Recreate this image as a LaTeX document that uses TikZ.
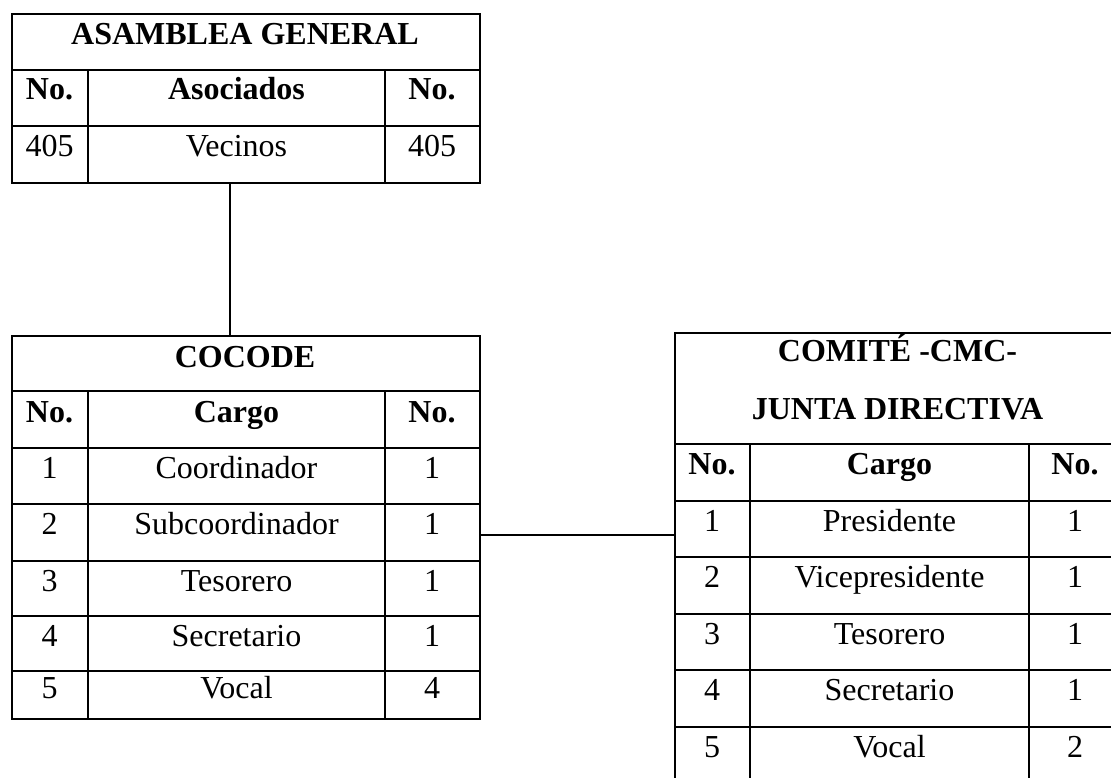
\documentclass[tikz,border=0pt]{standalone}
\usepackage{fontspec}
\setmainfont{Liberation Serif}

\tikzset{
  frame/.style={draw, line width=2pt, rectangle, inner sep=0pt, anchor=north west},
  rule/.style={line width=2pt},
  cell/.style={anchor=base, inner sep=0pt, font=\fontsize{32}{38}\selectfont},
  head/.style={anchor=base, inner sep=0pt, font=\fontsize{32}{38}\selectfont\bfseries}
}

\begin{document}
\begin{tikzpicture}[x=1pt, y=-1pt]
    \useasboundingbox (0,0) rectangle (1111,778);
    \clip (0,0) rectangle (1111,778);

    % asamblea general
    \node[frame, minimum width=468pt, minimum height=169pt] (asamblea) at (11,13) {};
    \draw[rule] (11,70) -- (479,70);
    \draw[rule] (11,126) -- (479,126);
    \draw[rule] (88,70) -- (88,182);
    \draw[rule] (385,70) -- (385,182);
    \node[head] (asamblea-title) at (245,45) {ASAMBLEA GENERAL};
    \node[head] (asamblea-no1) at (49.5,100) {No.};
    \node[head] (asamblea-asoc) at (236.5,100) {Asociados};
    \node[head] (asamblea-no2) at (432,100) {No.};
    \node[cell] (asamblea-n1) at (49.5,157) {405};
    \node[cell] (asamblea-vec) at (236.5,157) {Vecinos};
    \node[cell] (asamblea-n2) at (432,157) {405};

    % cocode
    \node[frame, minimum width=468pt, minimum height=383pt] (cocode) at (11,335) {};
    \draw[rule] (11,391) -- (479,391);
    \draw[rule] (11,448) -- (479,448);
    \draw[rule] (11,504) -- (479,504);
    \draw[rule] (11,561) -- (479,561);
    \draw[rule] (11,616) -- (479,616);
    \draw[rule] (11,671) -- (479,671);
    \draw[rule] (88,391) -- (88,718);
    \draw[rule] (385,391) -- (385,718);
    \node[head] (cocode-title) at (245,367) {COCODE};
    \node[head] (cocode-no1) at (49.5,422) {No.};
    \node[head] (cocode-cargo) at (236.5,422) {Cargo};
    \node[head] (cocode-no2) at (432,422) {No.};
    \node[cell] (cocode-a1) at (49.5,478) {1};
    \node[cell] (cocode-b1) at (236.5,478) {Coordinador};
    \node[cell] (cocode-c1) at (432,478) {1};
    \node[cell] (cocode-a2) at (49.5,534) {2};
    \node[cell] (cocode-b2) at (236.5,534) {Subcoordinador};
    \node[cell] (cocode-c2) at (432,534) {1};
    \node[cell] (cocode-a3) at (49.5,591) {3};
    \node[cell] (cocode-b3) at (236.5,591) {Tesorero};
    \node[cell] (cocode-c3) at (432,591) {1};
    \node[cell] (cocode-a4) at (49.5,646) {4};
    \node[cell] (cocode-b4) at (236.5,646) {Secretario};
    \node[cell] (cocode-c4) at (432,646) {1};
    \node[cell] (cocode-a5) at (49.5,698) {5};
    \node[cell] (cocode-b5) at (236.5,698) {Vocal};
    \node[cell] (cocode-c5) at (432,698) {4};

    % comite cmc
    \node[frame, minimum width=447pt, minimum height=452pt] (comite) at (674,332) {};
    \draw[rule] (674,444) -- (1121,444);
    \draw[rule] (674,501) -- (1121,501);
    \draw[rule] (674,557) -- (1121,557);
    \draw[rule] (674,614) -- (1121,614);
    \draw[rule] (674,670) -- (1121,670);
    \draw[rule] (674,727) -- (1121,727);
    \draw[rule] (750,444) -- (750,784);
    \draw[rule] (1029,444) -- (1029,784);
    \node[head] (comite-title1) at (897.5,361) {COMITÉ -CMC-};
    \node[head] (comite-title2) at (897.5,419) {JUNTA DIRECTIVA};
    \node[head] (comite-no1) at (712,474) {No.};
    \node[head] (comite-cargo) at (889.5,474) {Cargo};
    \node[head] (comite-no2) at (1075,474) {No.};
    \node[cell] (comite-a1) at (712,531) {1};
    \node[cell] (comite-b1) at (889.5,531) {Presidente};
    \node[cell] (comite-c1) at (1075,531) {1};
    \node[cell] (comite-a2) at (712,587) {2};
    \node[cell] (comite-b2) at (889.5,587) {Vicepresidente};
    \node[cell] (comite-c2) at (1075,587) {1};
    \node[cell] (comite-a3) at (712,644) {3};
    \node[cell] (comite-b3) at (889.5,644) {Tesorero};
    \node[cell] (comite-c3) at (1075,644) {1};
    \node[cell] (comite-a4) at (712,700) {4};
    \node[cell] (comite-b4) at (889.5,700) {Secretario};
    \node[cell] (comite-c4) at (1075,700) {1};
    \node[cell] (comite-a5) at (712,757) {5};
    \node[cell] (comite-b5) at (889.5,757) {Vocal};
    \node[cell] (comite-c5) at (1075,757) {2};

    % links
    \draw[line width=1.4pt] ([xshift=-16pt]asamblea.south) -- ([xshift=-16pt]asamblea.south |- cocode.north);
    \draw[line width=2pt] ([yshift=-7pt]cocode.east) -- ([yshift=-7pt]cocode.east -| comite.west);
\end{tikzpicture}
\end{document}
